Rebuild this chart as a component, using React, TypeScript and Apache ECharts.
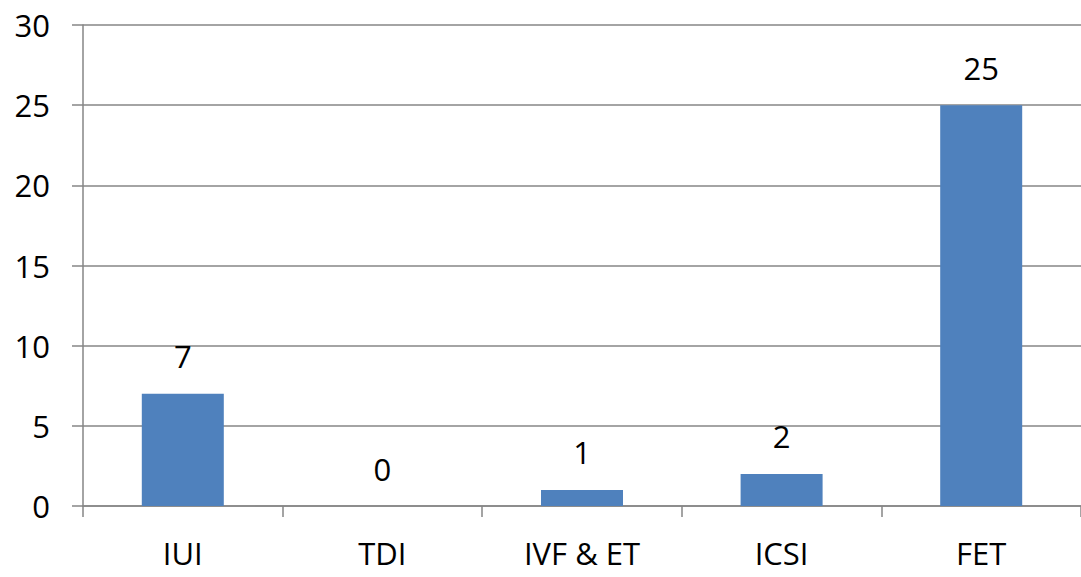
import React, { useEffect, useRef } from "react";
import * as echarts from "echarts";

const categories = ["IUI", "TDI", "IVF & ET", "ICSI", "FET"];
const values = [7, 0, 1, 2, 25];
const yTicks = { min: 0, max: 30, interval: 5 };

export default function App() {
  const ref = useRef<HTMLDivElement>(null);
  useEffect(() => {
    document.body.style.margin = "0";
    const chart = echarts.init(ref.current!, null, { renderer: "svg" });
    const font = "'Open Sans', 'Liberation Sans', sans-serif";
    chart.setOption({
      animation: false,
      grid: { left: 83, right: 0, top: 25, bottom: 71, containLabel: false },
      xAxis: {
        type: "category",
        data: categories,
        axisLine: { lineStyle: { color: "#868686", width: 1.5 } },
        axisTick: { show: true, alignWithLabel: false, length: 11, lineStyle: { color: "#868686", width: 1.5 } },
        axisLabel: { color: "#000", fontSize: 31, fontFamily: font, margin: 31 },
      },
      yAxis: {
        type: "value",
        min: yTicks.min,
        max: yTicks.max,
        interval: yTicks.interval,
        axisLine: { show: true, lineStyle: { color: "#868686", width: 1.5 } },
        axisTick: { show: true, length: 11, lineStyle: { color: "#868686", width: 1.5 } },
        splitLine: { lineStyle: { color: "#868686", width: 1.5 } },
        axisLabel: { color: "#000", fontSize: 31, fontFamily: font, margin: 33 },
      },
      series: [
        {
          type: "bar",
          data: values,
          barWidth: 82,
          itemStyle: { color: "#4F81BD" },
          label: {
            show: true,
            position: "top",
            distance: 22,
            color: "#000",
            fontSize: 31,
            fontFamily: font,
          },
        },
      ],
    });
    return () => chart.dispose();
  }, []);
  return <div ref={ref} style={{ width: 1081, height: 577 }} />;
}
